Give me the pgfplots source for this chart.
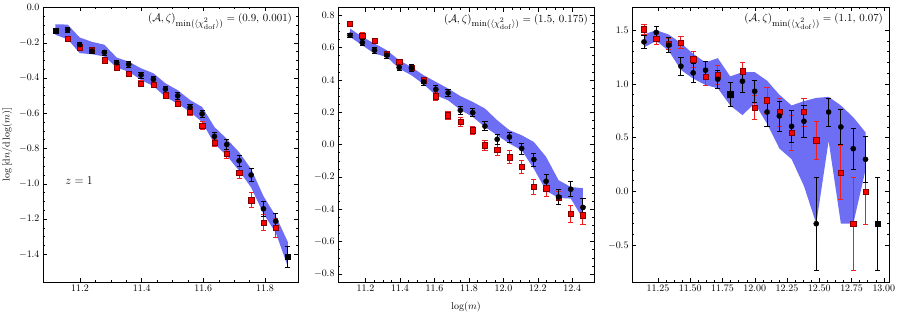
\documentclass[border=0pt]{standalone}
\usepackage{pgfplots}
\pgfplotsset{compat=1.18}
\definecolor{bandblue}{RGB}{110,110,245}
\definecolor{ebred}{RGB}{240,30,30}
\newcommand{\annot}[1]{{\fontsize{11}{13}\selectfont$(\mathcal{A},\zeta)_{\mbox{\fontsize{9.5}{11}\selectfont$\min(\langle\chi^2_{\rm dof}\rangle)$}} = #1$}}
\pgfplotsset{
  myax/.style={
    scale only axis, height=274.5bp,
    tick align=inside, minor tick num=3,
    major tick length=4bp, minor tick length=2bp,
    every tick/.style={black, line width=0.5pt},
    axis line style={line width=0.6pt},
    yticklabel style={/pgf/number format/fixed,/pgf/number format/fixed zerofill,/pgf/number format/precision=1},
    xticklabel style={/pgf/number format/fixed,/pgf/number format/fixed zerofill,/pgf/number format/precision=1},
    xlabel style={yshift=-3bp},
    clip=true,
  },
  redeb/.style={error bars/.cd, y dir=both, y explicit,
    error bar style={line width=1.0pt, color=ebred},
    error mark options={rotate=90, mark size=2.6bp, line width=0.6pt, color=ebred}},
  blkeb/.style={error bars/.cd, y dir=both, y explicit,
    error bar style={line width=1.0pt, color=black},
    error mark options={rotate=90, mark size=2.6bp, line width=0.6pt, color=black}},
  redpts/.style={only marks, color=ebred, mark=square*, mark size=2.6bp,
    mark options={fill=red, draw=red!50!black, line width=0.4pt}, redeb},
  blkpts/.style={only marks, color=black, mark=*, mark size=2.6bp,
    mark options={fill=black, draw=black}, blkeb},
  blksq/.style={only marks, color=black, mark=square*, mark size=2.6bp,
    mark options={fill=black, draw=black}, blkeb},
}
\begin{document}
\begin{tikzpicture}
\useasboundingbox (0,0) rectangle (899bp,314bp);
% ---------------- Panel 1 ----------------
\begin{axis}[myax, at={(43bp,32bp)}, anchor=south west, width=255bp,
  xmin=11.08, xmax=11.907, ymin=-1.557, ymax=0.0,
  xtick={11.2,11.4,11.6,11.8}, ytick={0,-0.2,-0.4,-0.6,-0.8,-1.0,-1.2,-1.4},
  ylabel={$\log\,[{\rm d}n/{\rm d}\log(m)]$}]
\addplot[fill=bandblue, draw=none] coordinates {
(11.120,-0.095) (11.160,-0.097) (11.199,-0.170) (11.239,-0.195) (11.279,-0.211)
(11.319,-0.284) (11.358,-0.307) (11.398,-0.345) (11.438,-0.373) (11.477,-0.430)
(11.517,-0.469) (11.557,-0.525) (11.596,-0.564) (11.636,-0.678) (11.676,-0.745)
(11.716,-0.821) (11.755,-0.916) (11.795,-1.070) (11.835,-1.183) (11.874,-1.330)
(11.874,-1.470) (11.835,-1.278) (11.795,-1.170) (11.755,-1.021) (11.716,-0.926)
(11.676,-0.840) (11.636,-0.773) (11.596,-0.650) (11.557,-0.592) (11.517,-0.545)
(11.477,-0.507) (11.438,-0.446) (11.398,-0.411) (11.358,-0.364) (11.319,-0.341)
(11.279,-0.278) (11.239,-0.265) (11.199,-0.259) (11.160,-0.180) (11.120,-0.155)
};
\addplot[redpts] coordinates {
(11.160,-0.179) +- (0,0.014) (11.199,-0.225) +- (0,0.014) (11.239,-0.238) +- (0,0.014)
(11.279,-0.299) +- (0,0.015) (11.319,-0.339) +- (0,0.015) (11.358,-0.375) +- (0,0.015)
(11.398,-0.430) +- (0,0.016) (11.438,-0.436) +- (0,0.016) (11.477,-0.497) +- (0,0.017)
(11.517,-0.545) +- (0,0.018) (11.557,-0.593) +- (0,0.019) (11.596,-0.669) +- (0,0.021)
(11.636,-0.767) +- (0,0.022) (11.676,-0.830) +- (0,0.025) (11.716,-0.935) +- (0,0.033)
(11.755,-1.093) +- (0,0.043) (11.795,-1.220) +- (0,0.045) (11.835,-1.250) +- (0,0.052)
};
\addplot[blkpts] coordinates {
(11.160,-0.127) +- (0,0.014) (11.199,-0.211) +- (0,0.014) (11.239,-0.247) +- (0,0.014)
(11.279,-0.255) +- (0,0.014) (11.319,-0.313) +- (0,0.015) (11.358,-0.322) +- (0,0.015)
(11.398,-0.383) +- (0,0.016) (11.438,-0.407) +- (0,0.016) (11.477,-0.463) +- (0,0.017)
(11.517,-0.501) +- (0,0.018) (11.557,-0.566) +- (0,0.019) (11.596,-0.603) +- (0,0.021)
(11.636,-0.731) +- (0,0.024) (11.676,-0.777) +- (0,0.027) (11.716,-0.869) +- (0,0.031)
(11.755,-0.950) +- (0,0.036) (11.795,-1.142) +- (0,0.045) (11.835,-1.212) +- (0,0.045)
};
\addplot[blksq] coordinates {
(11.120,-0.131) +- (0,0.014) (11.874,-1.415) +- (0,0.060)
};
\node[anchor=north east, inner sep=2bp] at (rel axis cs:0.985,0.985) {\annot{(0.9,\, 0.001)}};
\node at (axis cs:11.197,-0.98) {\fontsize{12}{14}\selectfont$z=1$};
\end{axis}
% ---------------- Panel 2 ----------------
\begin{axis}[myax, at={(338bp,32bp)}, anchor=south west, width=256bp,
  xmin=11.04, xmax=12.526, ymin=-0.85, ymax=0.848,
  xtick={11.2,11.4,11.6,11.8,12.0,12.2,12.4}, ytick={-0.8,-0.6,-0.4,-0.2,0,0.2,0.4,0.6,0.8},
  xlabel={$\log(m)$}]
\addplot[fill=bandblue, draw=none] coordinates {
(11.110,0.718) (11.181,0.666) (11.252,0.625) (11.323,0.584) (11.395,0.522)
(11.466,0.480) (11.537,0.429) (11.608,0.388) (11.679,0.347) (11.750,0.300)
(11.822,0.264) (11.893,0.223) (11.964,0.151) (12.035,0.089) (12.106,0.058)
(12.177,0.016) (12.248,-0.076) (12.320,-0.220) (12.391,-0.262) (12.462,-0.270)
(12.462,-0.460) (12.391,-0.334) (12.320,-0.330) (12.248,-0.285) (12.177,-0.150)
(12.106,-0.035) (12.035,0.006) (11.964,0.058) (11.893,0.109) (11.822,0.171)
(11.750,0.215) (11.679,0.274) (11.608,0.305) (11.537,0.373) (11.466,0.429)
(11.395,0.470) (11.323,0.542) (11.252,0.563) (11.181,0.614) (11.110,0.666)
};
\addplot[redpts] coordinates {
(11.110,0.749) +- (0,0.015) (11.181,0.676) +- (0,0.016) (11.252,0.641) +- (0,0.017)
(11.323,0.563) +- (0,0.017) (11.395,0.511) +- (0,0.018) (11.466,0.474) +- (0,0.019)
(11.537,0.398) +- (0,0.020) (11.608,0.299) +- (0,0.024) (11.679,0.182) +- (0,0.026)
(11.750,0.140) +- (0,0.026) (11.822,0.089) +- (0,0.027) (11.893,-0.004) +- (0,0.030)
(11.964,-0.031) +- (0,0.035) (12.035,-0.078) +- (0,0.040) (12.106,-0.136) +- (0,0.039)
(12.177,-0.260) +- (0,0.045) (12.248,-0.270) +- (0,0.050) (12.320,-0.329) +- (0,0.042)
(12.391,-0.426) +- (0,0.052) (12.462,-0.437) +- (0,0.055)
};
\addplot[blkpts] coordinates {
(11.110,0.676) +- (0,0.015) (11.181,0.631) +- (0,0.018) (11.252,0.584) +- (0,0.018)
(11.323,0.553) +- (0,0.018) (11.395,0.477) +- (0,0.020) (11.466,0.474) +- (0,0.020)
(11.537,0.388) +- (0,0.020) (11.608,0.342) +- (0,0.022) (11.679,0.320) +- (0,0.022)
(11.750,0.212) +- (0,0.025) (11.822,0.198) +- (0,0.026) (11.893,0.114) +- (0,0.028)
(11.964,0.033) +- (0,0.030) (12.035,0.047) +- (0,0.031) (12.106,-0.024) +- (0,0.035)
(12.177,-0.092) +- (0,0.040) (12.248,-0.227) +- (0,0.043) (12.320,-0.324) +- (0,0.045)
(12.391,-0.276) +- (0,0.046) (12.462,-0.389) +- (0,0.055)
};
\node[anchor=north east, inner sep=2bp] at (rel axis cs:0.985,0.985) {\annot{(1.5,\, 0.175)}};
\end{axis}
% ---------------- Panel 3 ----------------
\begin{axis}[myax, at={(632bp,32bp)}, anchor=south west, width=257bp,
  xmin=11.048, xmax=13.04, ymin=-0.842, ymax=1.711,
  xtick={11.25,11.5,11.75,12.0,12.25,12.5,12.75,13.0}, ytick={-0.5,0,0.5,1.0,1.5},
  xticklabel style={/pgf/number format/precision=2},
  minor x tick num=3, minor y tick num=4]
\addplot[fill=bandblue, draw=none] coordinates {
(11.141,1.46) (11.236,1.50) (11.332,1.46) (11.427,1.38) (11.522,1.28)
(11.618,1.20) (11.713,1.24) (11.809,1.07) (11.904,1.11) (11.999,1.11)
(12.095,1.03) (12.190,0.90) (12.285,0.80) (12.381,0.84) (12.476,0.87)
(12.572,0.88) (12.667,0.80) (12.763,0.69) (12.858,0.55)
(12.858,0.20) (12.763,-0.30) (12.667,-0.30) (12.572,0.47) (12.476,-0.30)
(12.381,0.05) (12.285,0.30) (12.190,0.40) (12.095,0.63) (11.999,0.82)
(11.904,0.71) (11.809,0.80) (11.713,0.96) (11.618,0.99) (11.522,1.05)
(11.427,1.13) (11.332,1.31) (11.236,1.40) (11.141,1.34)
};
\addplot[redpts] coordinates {
(11.141,1.509) +- (0,0.047) (11.236,1.423) +- (0,0.050) (11.332,1.376) +- (0,0.050)
(11.427,1.385) +- (0,0.057) (11.522,1.230) +- (0,0.075) (11.618,1.065) +- (0,0.082)
(11.713,1.081) +- (0,0.088) (11.904,1.118) +- (0,0.082) (11.999,0.780) +- (0,0.113)
(12.095,0.848) +- (0,0.120) (12.190,0.739) +- (0,0.130) (12.285,0.544) +- (0,0.160)
(12.381,0.739) +- (0,0.130) (12.476,0.476) +- (0,0.175) (12.667,0.175) +- (0,0.250)
(12.763,-0.300) +- (0,0.435) (12.858,0.001) +- (0,0.305)
};
\addplot[blkpts] coordinates {
(11.141,1.391) +- (0,0.062) (11.236,1.479) +- (0,0.057) (11.332,1.360) +- (0,0.070)
(11.427,1.165) +- (0,0.080) (11.522,1.103) +- (0,0.090) (11.618,1.128) +- (0,0.085)
(11.713,1.044) +- (0,0.080) (11.904,1.025) +- (0,0.100) (11.999,0.932) +- (0,0.105)
(12.095,0.739) +- (0,0.130) (12.190,0.702) +- (0,0.140) (12.285,0.606) +- (0,0.150)
(12.381,0.653) +- (0,0.145) (12.476,-0.300) +- (0,0.435) (12.572,0.739) +- (0,0.130)
(12.667,0.600) +- (0,0.160) (12.763,0.398) +- (0,0.190) (12.858,0.299) +- (0,0.210)
};
\addplot[blksq] coordinates {
(11.809,0.904) +- (0,0.110) (12.953,-0.300) +- (0,0.435)
};
\node[anchor=north east, inner sep=2bp] at (rel axis cs:0.985,0.985) {\annot{(1.1,\, 0.07)}};
\end{axis}
\end{tikzpicture}
\end{document}
